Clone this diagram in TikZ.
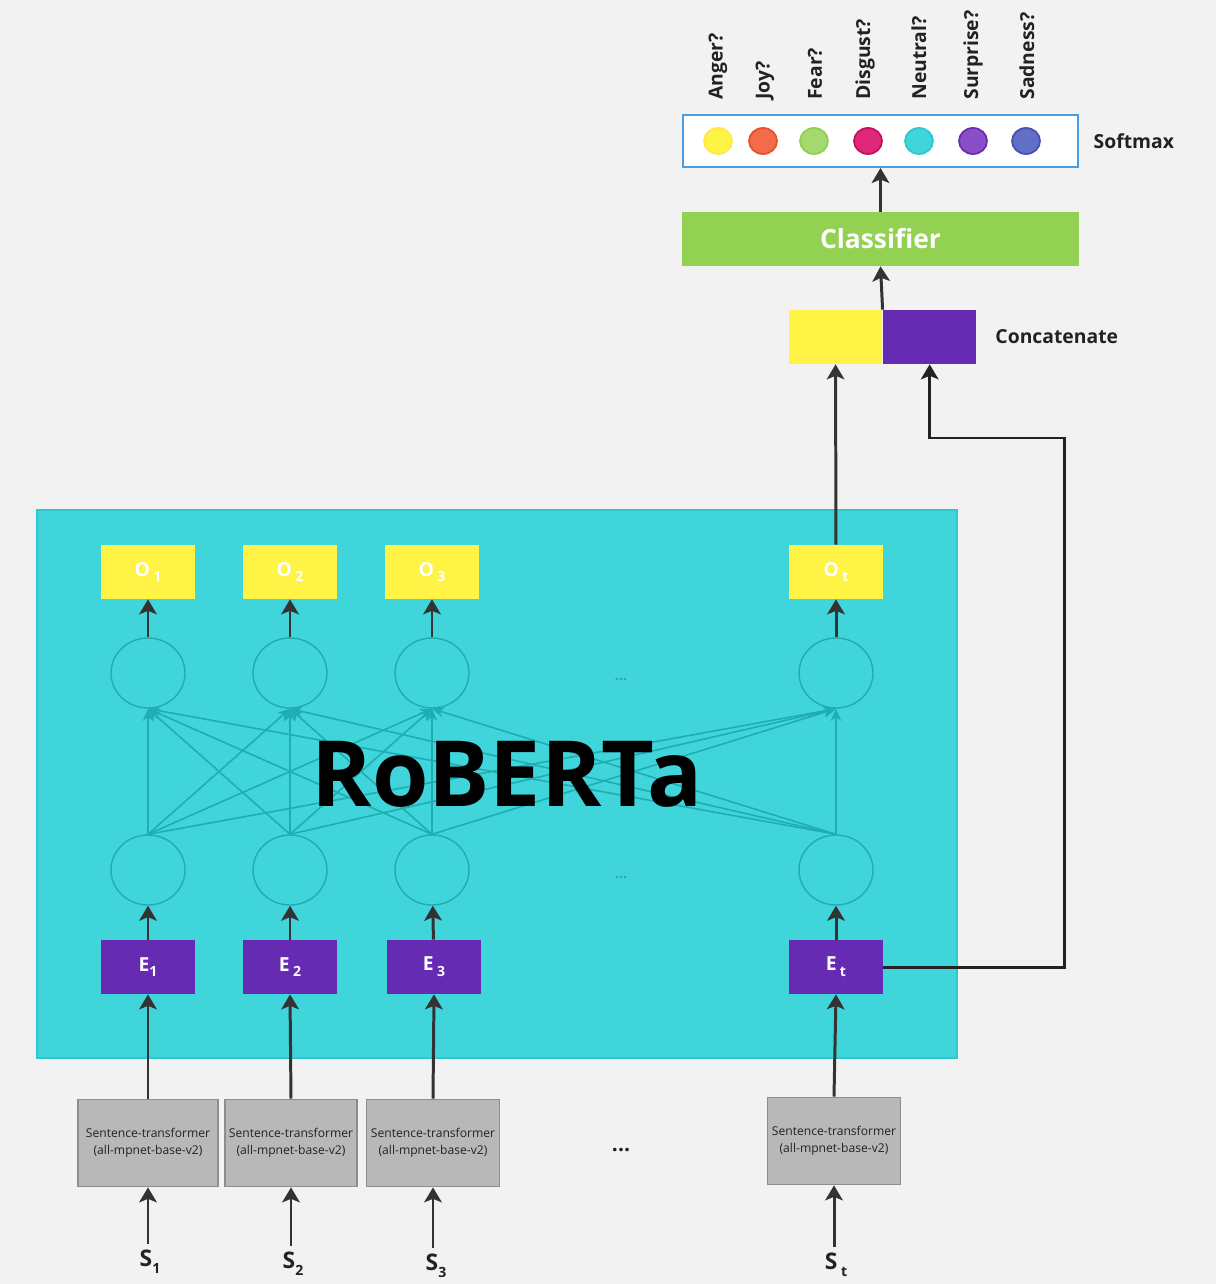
\documentclass[tikz,border=0pt]{standalone}
\usepackage{fontspec}
\setmainfont{Open Sans}
\usepackage{tikz}
\usetikzlibrary{shapes.geometric, arrows.meta, positioning}
\definecolor{bggray}{HTML}{F2F2F2}
\definecolor{robteal}{HTML}{3FD5DA}
\definecolor{robedge}{HTML}{2FC8CE}
\definecolor{netteal}{HTML}{1FADB3}
\definecolor{oyellow}{HTML}{FFF345}
\definecolor{epurple}{HTML}{652CB3}
\definecolor{encgray}{HTML}{B8B8B8}
\definecolor{encedge}{HTML}{8E8E8E}
\definecolor{clfgreen}{HTML}{92D151}
\definecolor{softblue}{HTML}{4C9DE0}
\definecolor{arrowdark}{HTML}{333333}
\definecolor{textdark}{HTML}{222222}
\newcommand{\idx}[1]{\raisebox{-0.55ex}{\fontsize{8}{8}\selectfont #1}}

\begin{document}
\begin{tikzpicture}[
  x=0.02cm, y=-0.02cm,
  box/.style={rectangle, inner sep=0pt, minimum width=1.88cm,
              minimum height=1.08cm, font=\bfseries\fontsize{11}{13}\selectfont},
  obox/.style={box, fill=oyellow, text=white},
  ebox/.style={box, fill=epurple, text=white},
  cbox/.style={box, minimum width=1.87cm},
  encbox/.style={rectangle, inner sep=0pt, minimum width=2.66cm, minimum height=1.74cm,
                 fill=encgray, draw=encedge, line width=1pt, align=center,
                 text=textdark, font=\fontsize{6.9}{10}\selectfont},
  neuron/.style={ellipse, draw=netteal, line width=0.8pt, inner sep=0pt,
                 minimum width=1.48cm, minimum height=1.4cm},
  rbox/.style={rectangle, fill=robteal, draw=robedge, line width=0.8pt,
               minimum width=18.4cm, minimum height=10.96cm},
  clfbox/.style={rectangle, fill=clfgreen, minimum width=7.94cm, minimum height=1.08cm,
                 text=white, font=\bfseries\fontsize{15}{18}\selectfont},
  softbox/.style={rectangle, fill=white, draw=softblue, line width=1.2pt,
                  minimum width=7.9cm, minimum height=1.04cm},
  sdot/.style={ellipse, line width=1pt, inner sep=0pt, minimum width=0.56cm,
               minimum height=0.52cm},
  emo/.style={rotate=90, anchor=west, inner sep=0pt, text=textdark,
              font=\bfseries\fontsize{11}{12}\selectfont},
  label/.style={text=textdark, font=\bfseries\fontsize{11}{13}\selectfont},
  inlabel/.style={text=textdark, font=\bfseries\fontsize{13}{15}\selectfont},
  netdots/.style={text=netteal, font=\bfseries\fontsize{8}{10}\selectfont},
  arrow/.style={-{Stealth[length=8.5pt, width=10pt, inset=2pt]}, line width=1.7pt, color=arrowdark},
  netarrow/.style={-{Stealth[length=7pt, width=6pt]}, line width=0.9pt, color=netteal},
]

\fill[bggray] (0,0) rectangle (1216,1284);
\useasboundingbox (0,0) rectangle (1216,1284);

% RoBERTa block
\node[rbox] (rob) at (497,784) {};

\foreach \i/\x in {1/148, 2/290, 3/432, t/836} {
  \node[obox] (o\i) at (\x,572) {O\,\idx{\i}};
  \node[neuron] (u\i) at (\x,673) {};
  \node[neuron] (l\i) at (\x,870) {};
}
\node[ebox] (e1) at (148,967) {E\idx{1}};
\node[ebox] (e2) at (290,967) {E\,\idx{2}};
\node[ebox] (e3) at (434,967) {E\,\idx{3}};
\node[ebox] (et) at (836,967) {E\,\idx{t}};

\node[netdots] (dotsU) at (621,680) {...};
\node[netdots] (dotsL) at (621,878) {...};

% fully connected layer
\foreach \i in {1,2,3,t} {
  \foreach \j in {1,2,3,t}
    \draw[netarrow] (l\i.north) -- (u\j.south);
}

\node[text=black, font=\bfseries\fontsize{52}{60}\selectfont] (robtxt) at (507,774) {RoBERTa};

% sentence encoders
\node[encbox, minimum width=2.8cm] (enc1) at (148,1143) {Sentence-transformer\\(all-mpnet-base-v2)};
\node[encbox, minimum width=2.64cm] (enc2) at (291,1143) {Sentence-transformer\\(all-mpnet-base-v2)};
\node[encbox] (enc3) at (433,1143) {Sentence-transformer\\(all-mpnet-base-v2)};
\node[encbox] (enct) at (834,1141) {Sentence-transformer\\(all-mpnet-base-v2)};
\node[text=textdark, font=\bfseries\fontsize{12}{14}\selectfont] (dotsS) at (621,1150) {...};

\node[inlabel] (in1) at (150,1262) {S\idx{1}};
\node[inlabel] (in2) at (293,1264) {S\idx{2}};
\node[inlabel] (in3) at (436,1266) {S\idx{3}};
\node[inlabel] (int) at (836,1265) {S\,\idx{t}};

\foreach \i in {1,2,3,t} {
  \draw[arrow] (enc\i.south |- in\i.north) -- (enc\i.south);
  \draw[arrow] (enc\i.north) -- (e\i.south);
  \draw[arrow] (e\i) -- (l\i);
  \draw[arrow] (u\i) -- (o\i);
}

% head
\node[cbox, fill=oyellow] (catA) at (835.5,337) {};
\node[cbox, fill=epurple, right=0pt of catA] (catB) {};
\node[label, right=0.25cm of catB] (catlbl) {Concatenate};

\node[clfbox] (clf) at (880.5,239) {Classifier};
\node[softbox] (soft) at (880.5,141) {};
\node[label, right=0.17cm of soft] (softlbl) {Softmax};

\foreach \n/\x/\f/\d in {1/718/FFF345/FFE94A, 2/763/F26B4A/E5512E, 3/814/A5D86E/92CF55,
                         4/868/E0287A/C6105E, 5/919/3FD5DA/2BC8CE, 6/973/8A4FC8/6A2CB0,
                         7/1026/6170C6/4850B0} {
  \definecolor{dotfill}{HTML}{\f}
  \definecolor{dotedge}{HTML}{\d}
  \node[sdot, fill=dotfill, draw=dotedge] (p\n) at (\x,141) {};
}

\node[emo] (lblAnger) at (718,100) {Anger?};
\node[emo] (lblJoy) at (765,100) {Joy?};
\node[emo] (lblFear) at (815,100) {Fear?};
\node[emo] (lblDisgust) at (865,100) {Disgust?};
\node[emo] (lblNeutral) at (919,100) {Neutral?};
\node[emo] (lblSurprise) at (973,100) {Surprise?};
\node[emo] (lblSadness) at (1027,100) {Sadness?};

\coordinate (skip) at (1064,438);
\draw[arrow] (ot) -- (catA);
\draw[arrow, color=textdark] (et.east) -| (skip) -| (catB.south);
\draw[arrow] (catA.north east) -- (clf.south);
\draw[arrow] (clf) -- (soft);

\end{tikzpicture}
\end{document}
